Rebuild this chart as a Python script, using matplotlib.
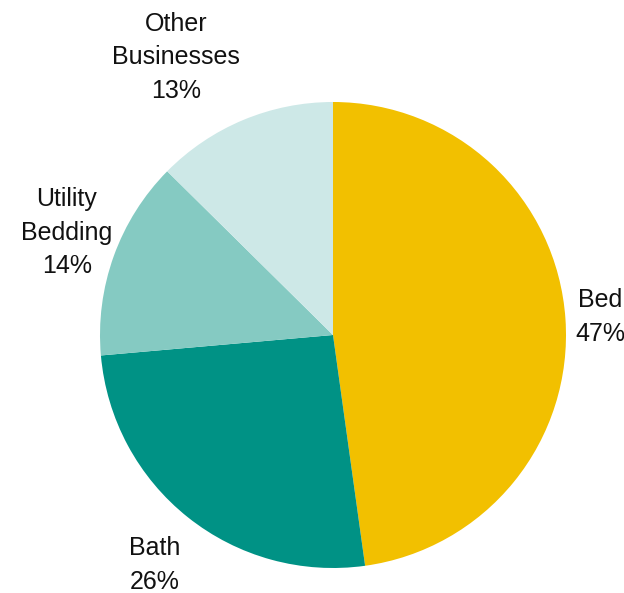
import matplotlib.pyplot as plt

segments = ["Bed", "Bath", "Utility\nBedding", "Other\nBusinesses"]
shares = [47.8, 25.8, 13.8, 12.6]          # slice sizes
share_labels = ["47%", "26%", "14%", "13%"]  # as printed on the chart
colors = ["#F2C000", "#009285", "#85CAC2", "#CDE8E7"]

# label centres, in pie radii from the centre
label_pos = [(1.146, 0.077), (-0.764, -0.987), (-1.142, 0.438), (-0.674, 1.193)]

plt.rcParams["font.family"] = ["Liberation Sans", "DejaVu Sans"]

fig = plt.figure(figsize=(6.24, 5.93), dpi=100)
ax = fig.add_axes([100 / 624, 25 / 593, 466 / 624, 466 / 593])

ax.pie(shares, colors=colors, startangle=90, counterclock=False,
       radius=1, wedgeprops=dict(linewidth=0))

for name, lab, (x, y) in zip(segments, share_labels, label_pos):
    ax.text(x, y, f"{name}\n{lab}", ha="center", va="center", fontsize=18,
            linespacing=1.5, color="#111111")

ax.set_xlim(-1, 1)
ax.set_ylim(-1, 1)
ax.set_aspect("equal")
ax.axis("off")

fig.savefig("out.png", dpi=100)
